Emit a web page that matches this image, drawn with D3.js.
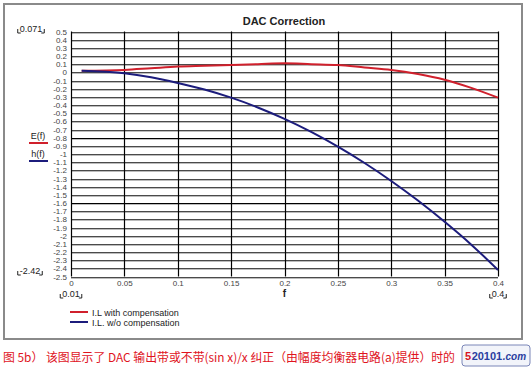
<!DOCTYPE html>
<html>
<head>
<meta charset="utf-8">
<script src="https://cdn.jsdelivr.net/npm/d3@7"></script>
<style>
  body { margin: 0; background: #fff; }
  svg { display: block; }
  .tick text { font-family: "Liberation Sans", Arial, sans-serif; font-size: 8px; fill: #444; }
  .lbl { font-family: "Liberation Sans", Arial, sans-serif; fill: #222; }
</style>
</head>
<body>
<div class="chart"></div>
<script>
const WIDTH = 532;
const HEIGHT = 368;
const PLOT = { left: 71, right: 498, top: 31.5, bottom: 276.5 };

// frequency samples (normalised f)
var freqs = [0.01, 0.05, 0.075, 0.1, 0.125, 0.15, 0.175, 0.2, 0.225, 0.25, 0.275, 0.3, 0.325, 0.35, 0.375, 0.4];
// I.L with compensation  E(f)
var withComp = [0.02, 0.03, 0.05, 0.07, 0.08, 0.09, 0.10, 0.11, 0.10, 0.09, 0.06, 0.03, -0.02, -0.09, -0.19, -0.31];
// I.L. w/o compensation  h(f)
var withoutComp = [0.02, -0.01, -0.06, -0.13, -0.21, -0.31, -0.43, -0.57, -0.73, -0.91, -1.11, -1.33, -1.57, -1.83, -2.11, -2.42];

var xTicks = [0, 0.05, 0.1, 0.15, 0.2, 0.25, 0.3, 0.35, 0.4];
var xTickLabels = ['0', '0.05', '0.1', '0.15', '0.2', '0.25', '0.3', '0.35', '0.4'];
var yTicks = [0.5, 0.4, 0.3, 0.2, 0.1, 0, -0.1, -0.2, -0.3, -0.4, -0.5, -0.6, -0.7, -0.8, -0.9, -1,
  -1.1, -1.2, -1.3, -1.4, -1.5, -1.6, -1.7, -1.8, -1.9, -2, -2.1, -2.2, -2.3, -2.4, -2.5];
var yMajor = [-0.8, -1.6];

var legendNames = ['I.L with compensation', 'I.L. w/o compensation'];
var sideNames = ['E(f)', 'h(f)'];
var colors = ['#d0202c', '#1c1c7c'];
var caption = '图 5b） 该图显示了 DAC 输出带或不带(sin x)/x 纠正（由幅度均衡器电路(a)提供）时的';
var logoParts = ['5', '20101', '.com'];

var x = d3.scaleLinear().domain([0, 0.4]).range([PLOT.left, PLOT.right]);
var y = d3.scaleLinear().domain([0.5, -2.5]).range([PLOT.top, PLOT.bottom]);

var svg = d3.select('.chart').append('svg')
  .attr('width', WIDTH)
  .attr('height', HEIGHT);

// outer frame
svg.append('rect')
  .attr('x', 4).attr('y', 4).attr('width', 518).attr('height', 335)
  .attr('fill', 'none').attr('stroke', '#8a8a8a').attr('stroke-width', 2);

// title
svg.append('text').attr('class', 'lbl')
  .attr('x', 284).attr('y', 25).attr('text-anchor', 'middle')
  .attr('font-size', 11).attr('font-weight', 'bold')
  .text('DAC Correction');

// horizontal grid
var grid = svg.append('g');
grid.selectAll('line.hg2').data(yTicks).enter().append('line')
  .attr('x1', PLOT.left).attr('x2', PLOT.right)
  .attr('y1', function (d) { return Math.round(y(d)) + 1.5; })
  .attr('y2', function (d) { return Math.round(y(d)) + 1.5; })
  .attr('stroke', '#bcbcbc').attr('stroke-width', 1);
grid.selectAll('line.hg').data(yTicks).enter().append('line')
  .attr('x1', PLOT.left).attr('x2', PLOT.right)
  .attr('y1', function (d) { return Math.round(y(d)) + 0.5; })
  .attr('y2', function (d) { return Math.round(y(d)) + 0.5; })
  .attr('stroke', function (d) { return yMajor.indexOf(d) >= 0 ? '#000' : '#4a4a4a'; })
  .attr('stroke-width', 1);

// vertical grid
grid.selectAll('line.vg').data(xTicks).enter().append('line')
  .attr('x1', function (d) { return Math.round(x(d)) + 0.5; })
  .attr('x2', function (d) { return Math.round(x(d)) + 0.5; })
  .attr('y1', PLOT.top).attr('y2', PLOT.bottom)
  .attr('stroke', '#000').attr('stroke-width', 1.2);

// axes
var yAxis = d3.axisLeft(y).tickValues(yTicks).tickSize(0).tickPadding(4)
  .tickFormat(function (d) { return String(d); });
var yAxisG = svg.append('g').attr('transform', 'translate(' + PLOT.left + ',0)').call(yAxis);
yAxisG.select('.domain').remove();

var xAxis = d3.axisBottom(x).tickValues(xTicks).tickSize(0).tickPadding(4)
  .tickFormat(function (d, i) { return xTickLabels[i]; });
var xAxisG = svg.append('g').attr('transform', 'translate(0,' + PLOT.bottom + ')').call(xAxis);
xAxisG.select('.domain').remove();

svg.append('text').attr('class', 'lbl')
  .attr('x', x(0.2)).attr('y', 297).attr('text-anchor', 'middle')
  .attr('font-size', 10).attr('font-weight', 'bold').text('f');

// bracketed cursor values
function bracketLabel(cx, cy, txt) {
  var g = svg.append('g');
  var t = g.append('text').attr('class', 'lbl')
    .attr('x', cx).attr('y', cy).attr('text-anchor', 'middle')
    .attr('font-size', 9).text(txt);
  var w = t.node().getComputedTextLength();
  var l = cx - w / 2 - 2, r = cx + w / 2 + 2;
  g.append('path')
    .attr('d', 'M' + l + ',' + (cy - 3) + 'V' + (cy + 1) + 'H' + (l + 3) +
      'M' + r + ',' + (cy - 3) + 'V' + (cy + 1) + 'H' + (r - 3))
    .attr('fill', 'none').attr('stroke', '#222').attr('stroke-width', 1);
}
bracketLabel(31, 32, '0.071');
bracketLabel(30, 274, '-2.42');
bracketLabel(71, 297, '0.01');
bracketLabel(498, 297, '0.4');

// curves
var series = [withComp, withoutComp];
var line = d3.line()
  .x(function (d, i) { return x(freqs[i]); })
  .y(function (d) { return y(d); })
  .curve(d3.curveMonotoneX);
svg.append('g').selectAll('path').data(series).enter().append('path')
  .attr('d', function (d) { return line(d); })
  .attr('fill', 'none')
  .attr('stroke', function (d, i) { return colors[i]; })
  .attr('stroke-width', 2);

// side legend
sideNames.forEach(function (name, i) {
  var yy = 139 + i * 18;
  svg.append('text').attr('class', 'lbl')
    .attr('x', 38).attr('y', yy).attr('text-anchor', 'middle')
    .attr('font-size', 9).text(name);
  svg.append('line').attr('x1', 29).attr('x2', 48)
    .attr('y1', yy + 4).attr('y2', yy + 4)
    .attr('stroke', colors[i]).attr('stroke-width', 2);
});

// bottom legend
legendNames.forEach(function (name, i) {
  var yy = 312 + i * 10;
  svg.append('line').attr('x1', 70).attr('x2', 88)
    .attr('y1', yy).attr('y2', yy)
    .attr('stroke', colors[i]).attr('stroke-width', 2);
  svg.append('text').attr('class', 'lbl')
    .attr('x', 92).attr('y', yy + 3.5)
    .attr('font-size', 9).text(name);
});

// caption
svg.append('text')
  .attr('x', 3).attr('y', 362)
  .attr('font-family', '"Noto Sans CJK SC", sans-serif')
  .attr('font-size', 12).attr('fill', '#e0141e')
  .attr('textLength', 452).attr('lengthAdjust', 'spacingAndGlyphs')
  .text(caption);

// site logo
var logo = svg.append('g').attr('transform', 'translate(462,345)');
logo.append('rect').attr('width', 68).attr('height', 21).attr('rx', 3)
  .attr('fill', '#f2f4fa').attr('stroke', '#7a86b8').attr('stroke-width', 1);
var lx = 3;
logoParts.forEach(function (part, i) {
  var t = logo.append('text').attr('x', lx).attr('y', 15)
    .attr('font-family', '"Liberation Sans", Arial, sans-serif')
    .attr('font-size', i === 2 ? 10 : 11).attr('font-weight', 'bold')
    .attr('font-style', i === 2 ? 'italic' : 'normal')
    .attr('fill', i === 0 ? '#d8141e' : '#2a3ea0')
    .text(part);
  lx += t.node().getComputedTextLength() + 0.5;
});
</script>
</body>
</html>
